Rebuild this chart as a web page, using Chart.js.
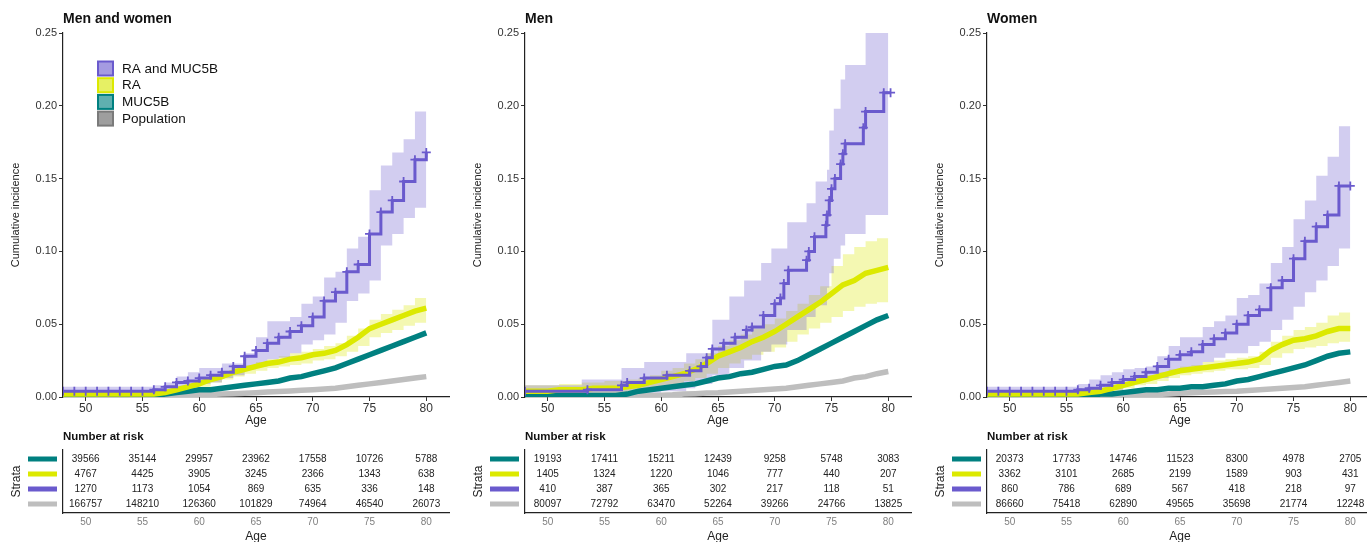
<!DOCTYPE html>
<html>
<head>
<meta charset="utf-8">
<script src="https://cdn.jsdelivr.net/npm/chart.js"></script>
<style>
  body { margin: 0; background: #fff; width: 1367px; height: 542px; overflow: hidden; position: relative; }
  canvas { position: absolute; }
</style>
</head>
<body>
<canvas id="m0" width="456" height="432" style="left:0px;top:0px"></canvas>
<canvas id="m1" width="456" height="432" style="left:462px;top:0px"></canvas>
<canvas id="m2" width="456" height="432" style="left:924px;top:0px"></canvas>
<canvas id="r0" width="456" height="120" style="left:0px;top:430px"></canvas>
<canvas id="r1" width="456" height="120" style="left:462px;top:430px"></canvas>
<canvas id="r2" width="456" height="120" style="left:924px;top:430px"></canvas>
<script>
// ages on the 1-year grid used by most curves
const ages = [48,49,50,51,52,53,54,55,56,57,58,59,60,61,62,63,64,65,66,67,68,69,70,71,72,73,74,75,76,77,78,79,80];
const ageTicks = [50, 55, 60, 65, 70, 75, 80];
const yTicks = [0, 0.05, 0.10, 0.15, 0.20, 0.25];
const seriesNames = ['RA and MUC5B', 'RA', 'MUC5B', 'Population'];

// Men and women
const bothComboEst = [0.004,0.004,0.004,0.004,0.004,0.004,0.004,0.004,0.005,0.007,0.010,0.011,0.013,0.015,0.017,0.021,0.028,0.032,0.037,0.041,0.045,0.049,0.055,0.066,0.072,0.086,0.091,0.112,0.127,0.135,0.148,0.163,0.168];
const bothComboHi  = [0.007,0.007,0.007,0.007,0.007,0.007,0.007,0.007,0.008,0.010,0.014,0.017,0.020,0.020,0.023,0.023,0.030,0.041,0.052,0.052,0.055,0.064,0.069,0.082,0.086,0.102,0.110,0.142,0.159,0.168,0.177,0.196,0.202];
const bothComboLo  = [0.002,0.002,0.002,0.002,0.002,0.002,0.002,0.002,0.003,0.004,0.005,0.007,0.009,0.010,0.013,0.015,0.019,0.021,0.026,0.027,0.030,0.036,0.039,0.043,0.051,0.066,0.071,0.080,0.104,0.112,0.123,0.130,0.132];
const bothRaEst = [0.002,0.002,0.002,0.002,0.002,0.002,0.002,0.002,0.002,0.003,0.005,0.007,0.009,0.012,0.014,0.017,0.019,0.021,0.023,0.024,0.026,0.027,0.029,0.030,0.032,0.036,0.041,0.047,0.050,0.053,0.056,0.059,0.061];
const bothRaHi  = [0.004,0.004,0.004,0.004,0.004,0.004,0.004,0.004,0.004,0.005,0.007,0.009,0.011,0.014,0.017,0.020,0.022,0.024,0.026,0.028,0.030,0.031,0.033,0.035,0.037,0.042,0.047,0.053,0.057,0.060,0.063,0.068,0.071];
const bothRaLo  = [0.001,0.001,0.001,0.001,0.001,0.001,0.001,0.001,0.001,0.002,0.003,0.005,0.007,0.010,0.012,0.014,0.016,0.018,0.020,0.021,0.022,0.023,0.025,0.026,0.028,0.031,0.035,0.041,0.044,0.046,0.049,0.051,0.052];
const bothMucEst = [0.001,0.001,0.001,0.001,0.001,0.001,0.001,0.001,0.001,0.002,0.003,0.004,0.005,0.005,0.006,0.007,0.008,0.009,0.010,0.011,0.013,0.014,0.016,0.018,0.020,0.023,0.026,0.029,0.032,0.035,0.038,0.041,0.044];
const bothPopEst = [0.0005,0.0005,0.0005,0.0005,0.0005,0.0005,0.0005,0.0005,0.001,0.001,0.001,0.001,0.0015,0.0018,0.002,0.0023,0.0026,0.003,0.0034,0.0038,0.0042,0.0046,0.005,0.0055,0.006,0.007,0.008,0.009,0.010,0.011,0.012,0.013,0.014];

// Men (RA and MUC5B has its own step times)
const menComboAge = [48,53.5,56.5,57,58.5,60.5,62.5,63.5,64,64.5,65.5,66.5,67.5,68,69,70,70.5,70.8,71.2,72.8,73,73.5,74.5,74.6,74.8,75,75.3,75.8,76,76.2,77.8,78,79.6,80.2];
const menComboEst = [0.004,0.005,0.008,0.010,0.013,0.015,0.018,0.021,0.027,0.033,0.037,0.041,0.046,0.048,0.056,0.064,0.068,0.078,0.087,0.094,0.100,0.110,0.118,0.125,0.135,0.143,0.150,0.160,0.167,0.174,0.185,0.196,0.209,0.209];
const menComboBandAge = [48,53,56.5,58.5,60,62.2,63,64.5,66,67.3,68.8,69.7,71.1,72.8,73.6,74.6,74.8,75.2,75.8,76.2,78,80];
const menComboHi = [0.008,0.012,0.020,0.024,0.024,0.030,0.030,0.053,0.069,0.080,0.092,0.102,0.120,0.133,0.148,0.156,0.183,0.198,0.218,0.228,0.250,0.250];
const menComboLo = [0.000,0.001,0.002,0.003,0.004,0.006,0.009,0.015,0.020,0.025,0.031,0.036,0.046,0.055,0.063,0.075,0.085,0.095,0.104,0.112,0.125,0.132];
const menRaEst = [0.004,0.004,0.004,0.005,0.005,0.005,0.006,0.006,0.006,0.007,0.008,0.010,0.012,0.014,0.016,0.019,0.023,0.028,0.031,0.034,0.038,0.041,0.045,0.050,0.055,0.060,0.065,0.071,0.077,0.080,0.085,0.087,0.089];
const menRaHi  = [0.008,0.008,0.008,0.009,0.009,0.010,0.010,0.011,0.011,0.012,0.013,0.015,0.018,0.020,0.023,0.026,0.030,0.035,0.039,0.043,0.047,0.050,0.054,0.059,0.064,0.070,0.076,0.090,0.098,0.103,0.107,0.109,0.112];
const menRaLo  = [0.001,0.001,0.001,0.001,0.001,0.001,0.001,0.001,0.002,0.003,0.004,0.005,0.007,0.009,0.011,0.013,0.016,0.020,0.023,0.026,0.029,0.031,0.034,0.038,0.043,0.047,0.051,0.055,0.059,0.062,0.064,0.065,0.066];
const menMucEst = [0.001,0.001,0.001,0.001,0.001,0.001,0.001,0.001,0.001,0.002,0.004,0.005,0.006,0.007,0.008,0.009,0.011,0.013,0.014,0.016,0.017,0.019,0.021,0.022,0.025,0.029,0.033,0.037,0.041,0.045,0.049,0.053,0.056];
const menPopEst = [0.0005,0.0005,0.0005,0.0005,0.0005,0.0005,0.0005,0.0005,0.001,0.001,0.001,0.001,0.0012,0.0015,0.002,0.0023,0.0027,0.003,0.0035,0.004,0.0045,0.005,0.0055,0.006,0.007,0.008,0.009,0.010,0.011,0.013,0.014,0.016,0.0175];

// Women
const womenComboEst = [0.004,0.004,0.004,0.004,0.004,0.004,0.004,0.004,0.005,0.006,0.008,0.010,0.012,0.014,0.017,0.021,0.026,0.029,0.031,0.036,0.040,0.044,0.050,0.056,0.060,0.075,0.080,0.095,0.107,0.117,0.125,0.145,0.145];
const womenComboHi  = [0.007,0.007,0.007,0.007,0.007,0.007,0.007,0.007,0.009,0.012,0.015,0.017,0.019,0.020,0.021,0.028,0.035,0.041,0.041,0.048,0.052,0.056,0.068,0.070,0.078,0.092,0.103,0.122,0.135,0.152,0.165,0.186,0.186];
const womenComboLo  = [0.002,0.002,0.002,0.002,0.002,0.002,0.002,0.002,0.002,0.003,0.004,0.005,0.008,0.010,0.012,0.013,0.016,0.017,0.021,0.024,0.027,0.030,0.030,0.035,0.038,0.046,0.053,0.062,0.072,0.080,0.090,0.102,0.102];
const womenRaEst = [0.002,0.002,0.002,0.002,0.002,0.002,0.002,0.002,0.002,0.003,0.004,0.006,0.008,0.010,0.012,0.014,0.016,0.018,0.019,0.020,0.021,0.022,0.023,0.024,0.026,0.032,0.036,0.039,0.040,0.042,0.045,0.047,0.047];
const womenRaHi  = [0.004,0.004,0.004,0.004,0.004,0.004,0.004,0.004,0.004,0.005,0.006,0.008,0.010,0.013,0.015,0.017,0.019,0.021,0.022,0.024,0.025,0.026,0.027,0.028,0.031,0.038,0.042,0.046,0.048,0.051,0.056,0.058,0.058];
const womenRaLo  = [0.001,0.001,0.001,0.001,0.001,0.001,0.001,0.001,0.001,0.002,0.003,0.004,0.006,0.008,0.009,0.011,0.013,0.015,0.016,0.017,0.018,0.019,0.019,0.020,0.022,0.027,0.030,0.033,0.034,0.035,0.037,0.038,0.037];
const womenMucEst = [0.001,0.001,0.001,0.001,0.001,0.001,0.001,0.001,0.001,0.001,0.002,0.002,0.003,0.004,0.005,0.005,0.006,0.006,0.007,0.007,0.008,0.009,0.011,0.012,0.014,0.016,0.018,0.020,0.022,0.025,0.028,0.030,0.031];
const womenPopEst = [0.0005,0.0005,0.0005,0.0005,0.0005,0.0005,0.0005,0.0005,0.0005,0.0005,0.0005,0.0005,0.001,0.0012,0.0015,0.0018,0.002,0.0025,0.003,0.0032,0.0035,0.0038,0.004,0.0045,0.005,0.0055,0.006,0.0065,0.007,0.008,0.009,0.010,0.011];

// Number at risk (rows: MUC5B, RA, RA and MUC5B, Population)
const bothRisk = [
  [39566, 35144, 29957, 23962, 17558, 10726, 5788],
  [4767, 4425, 3905, 3245, 2366, 1343, 638],
  [1270, 1173, 1054, 869, 635, 336, 148],
  [166757, 148210, 126360, 101829, 74964, 46540, 26073]
];
const menRisk = [
  [19193, 17411, 15211, 12439, 9258, 5748, 3083],
  [1405, 1324, 1220, 1046, 777, 440, 207],
  [410, 387, 365, 302, 217, 118, 51],
  [80097, 72792, 63470, 52264, 39266, 24766, 13825]
];
const womenRisk = [
  [20373, 17733, 14746, 11523, 8300, 4978, 2705],
  [3362, 3101, 2685, 2199, 1589, 903, 431],
  [860, 786, 689, 567, 418, 218, 97],
  [86660, 75418, 62890, 49565, 35698, 21774, 12248]
];

const FONT = '"Liberation Sans", Arial, Helvetica, sans-serif';
const COL = { combo: '#6a5acd', ra: '#dce900', muc: '#008080', pop: '#bebebe' };
const BAND = { combo: 'rgba(106,90,205,0.3)', ra: 'rgba(220,233,0,0.3)' };
const KEY = [
  { name: seriesNames[0], fill: '#a59be1', line: '#6a5acd' },
  { name: seriesNames[1], fill: '#e6f064', line: '#dce900' },
  { name: seriesNames[2], fill: '#5fb0b0', line: '#008080' },
  { name: seriesNames[3], fill: '#9e9e9e', line: '#7a7a7a' }
];
const riskColors = [COL.muc, COL.ra, COL.combo, COL.pop];

const panels = [
  { id: 0, title: 'Men and women', legend: true,
    comboX: ages, comboEst: bothComboEst, comboBandX: ages, comboHi: bothComboHi, comboLo: bothComboLo,
    raEst: bothRaEst, raHi: bothRaHi, raLo: bothRaLo, mucEst: bothMucEst, popEst: bothPopEst, risk: bothRisk },
  { id: 1, title: 'Men', legend: false,
    comboX: menComboAge, comboEst: menComboEst, comboBandX: menComboBandAge, comboHi: menComboHi, comboLo: menComboLo,
    raEst: menRaEst, raHi: menRaHi, raLo: menRaLo, mucEst: menMucEst, popEst: menPopEst, risk: menRisk },
  { id: 2, title: 'Women', legend: false,
    comboX: ages, comboEst: womenComboEst, comboBandX: ages, comboHi: womenComboHi, comboLo: womenComboLo,
    raEst: womenRaEst, raHi: womenRaHi, raLo: womenRaLo, mucEst: womenMucEst, popEst: womenPopEst, risk: womenRisk }
];

function pts(xs, ys) {
  return xs.map((x, i) => ({ x: x, y: ys[i] }));
}

function lineSet(xs, ys, color, order, width) {
  return { data: pts(xs, ys), borderColor: color, borderWidth: width, pointRadius: 0,
           fill: false, tension: 0, order: order };
}

function bandSets(xs, hi, lo, color, order) {
  return [
    { data: pts(xs, hi), borderWidth: 0, pointRadius: 0, backgroundColor: color, fill: '+1', stepped: true, order: order },
    { data: pts(xs, lo), borderWidth: 0, pointRadius: 0, backgroundColor: color, fill: false, stepped: true, order: order + 1 }
  ];
}

function axisText(size, bold) {
  return { family: FONT, size: size, weight: bold ? 'bold' : 'normal' };
}

function mainChart(p) {
  const combo = lineSet(p.comboX, p.comboEst, COL.combo, 1, 3);
  combo.stepped = true;
  combo.pointStyle = 'cross';
  combo.pointRadius = 4.5;
  combo.pointBorderWidth = 1.8;
  const sets = [
    combo,
    lineSet(ages, p.raEst, COL.ra, 2, 5.5),
    lineSet(ages, p.mucEst, COL.muc, 3, 5.5),
    lineSet(ages, p.popEst, COL.pop, 4, 5.5),
    ...bandSets(p.comboBandX, p.comboHi, p.comboLo, BAND.combo, 10),
    ...bandSets(ages, p.raHi, p.raLo, BAND.ra, 12)
  ];

  const decor = {
    id: 'decor' + p.id,
    afterDraw(chart) {
      const ctx = chart.ctx, a = chart.chartArea;
      ctx.save();
      ctx.fillStyle = '#111';
      ctx.font = 'bold 14px ' + FONT;
      ctx.textBaseline = 'middle';
      ctx.textAlign = 'left';
      ctx.fillText(p.title, a.left, 19);
      if (p.legend) {
        ctx.font = '13.5px ' + FONT;
        KEY.forEach((k, i) => {
          const cy = a.top + 35.5 + i * 16.7;
          ctx.fillStyle = k.fill;
          ctx.fillRect(a.left + 35, cy - 7, 15, 14);
          ctx.strokeStyle = k.line;
          ctx.lineWidth = 2;
          ctx.strokeRect(a.left + 35, cy - 7, 15, 14);
          ctx.fillStyle = '#111';
          ctx.fillText(k.name, a.left + 59, cy + 0.5);
        });
      }
      ctx.restore();
    }
  };

  return new Chart(document.getElementById('m' + p.id), {
    type: 'line',
    data: { datasets: sets },
    options: {
      responsive: false,
      animation: false,
      layout: { padding: { top: 33, right: 7, left: 0, bottom: 0 } },
      plugins: { legend: { display: false }, tooltip: { enabled: false } },
      scales: {
        x: {
          type: 'linear', min: 48, max: 82,
          afterBuildTicks: s => { s.ticks = ageTicks.map(v => ({ value: v })); },
          afterFit: s => { s.height = 35; },
          grid: { display: true, drawOnChartArea: false, drawTicks: true, tickLength: 4, color: '#333' },
          border: { display: true, color: '#222', width: 1.2 },
          ticks: { color: '#333', font: axisText(12), padding: 0, maxRotation: 0 },
          title: { display: true, text: 'Age', color: '#222', font: axisText(12), padding: { top: 0, bottom: 4 } }
        },
        y: {
          type: 'linear', min: 0, max: 0.25,
          afterBuildTicks: s => { s.ticks = yTicks.map(v => ({ value: v })); },
          afterFit: s => { s.width = 63; },
          grid: { display: true, drawOnChartArea: false, drawTicks: true, tickLength: 4, color: '#333' },
          border: { display: true, color: '#222', width: 1.2 },
          ticks: { color: '#333', font: axisText(11), padding: 2, callback: v => v.toFixed(2) },
          title: { display: true, text: 'Cumulative incidence', color: '#222', font: axisText(11), padding: { top: 9, bottom: 0 } }
        }
      }
    },
    plugins: [decor]
  });
}

function riskChart(p) {
  const table = {
    id: 'table' + p.id,
    afterDraw(chart) {
      const ctx = chart.ctx, a = chart.chartArea;
      const xs = chart.scales.x, ys = chart.scales.y;
      ctx.save();
      ctx.fillStyle = '#111';
      ctx.font = 'bold 11.5px ' + FONT;
      ctx.textAlign = 'left';
      ctx.textBaseline = 'middle';
      ctx.fillText('Number at risk', a.left, a.top - 13);
      ctx.font = '10px ' + FONT;
      ctx.textAlign = 'center';
      p.risk.forEach((row, r) => {
        const y = ys.getPixelForValue(r + 1);
        ctx.fillStyle = riskColors[r];
        ctx.fillRect(28, y - 2.5, 29, 5);
        ctx.fillStyle = '#222';
        row.forEach((n, j) => ctx.fillText(String(n), xs.getPixelForValue(ageTicks[j]), y + 0.5));
      });
      ctx.restore();
    }
  };

  return new Chart(document.getElementById('r' + p.id), {
    type: 'line',
    data: { datasets: [{ data: [], pointRadius: 0 }] },
    options: {
      responsive: false,
      animation: false,
      layout: { padding: { top: 20, right: 7, left: 0, bottom: 0 } },
      plugins: { legend: { display: false }, tooltip: { enabled: false } },
      scales: {
        x: {
          type: 'linear', min: 48, max: 82,
          afterBuildTicks: s => { s.ticks = ageTicks.map(v => ({ value: v })); },
          afterFit: s => { s.height = 37; },
          grid: { display: false, drawTicks: false },
          border: { display: true, color: '#222', width: 1.2 },
          ticks: { color: '#7f7f7f', font: axisText(10), padding: 3, maxRotation: 0 },
          title: { display: true, text: 'Age', color: '#222', font: axisText(12), padding: { top: 0, bottom: 6 } }
        },
        y: {
          type: 'linear', min: 0.4, max: 4.6, reverse: true,
          afterFit: s => { s.width = 63; },
          grid: { display: false, drawTicks: false },
          border: { display: true, color: '#222', width: 1.2 },
          ticks: { display: false },
          title: { display: true, text: 'Strata', color: '#222', font: axisText(12), padding: { top: 9, bottom: 0 } }
        }
      }
    },
    plugins: [table]
  });
}

panels.forEach(p => { mainChart(p); riskChart(p); });
</script>
</body>
</html>
